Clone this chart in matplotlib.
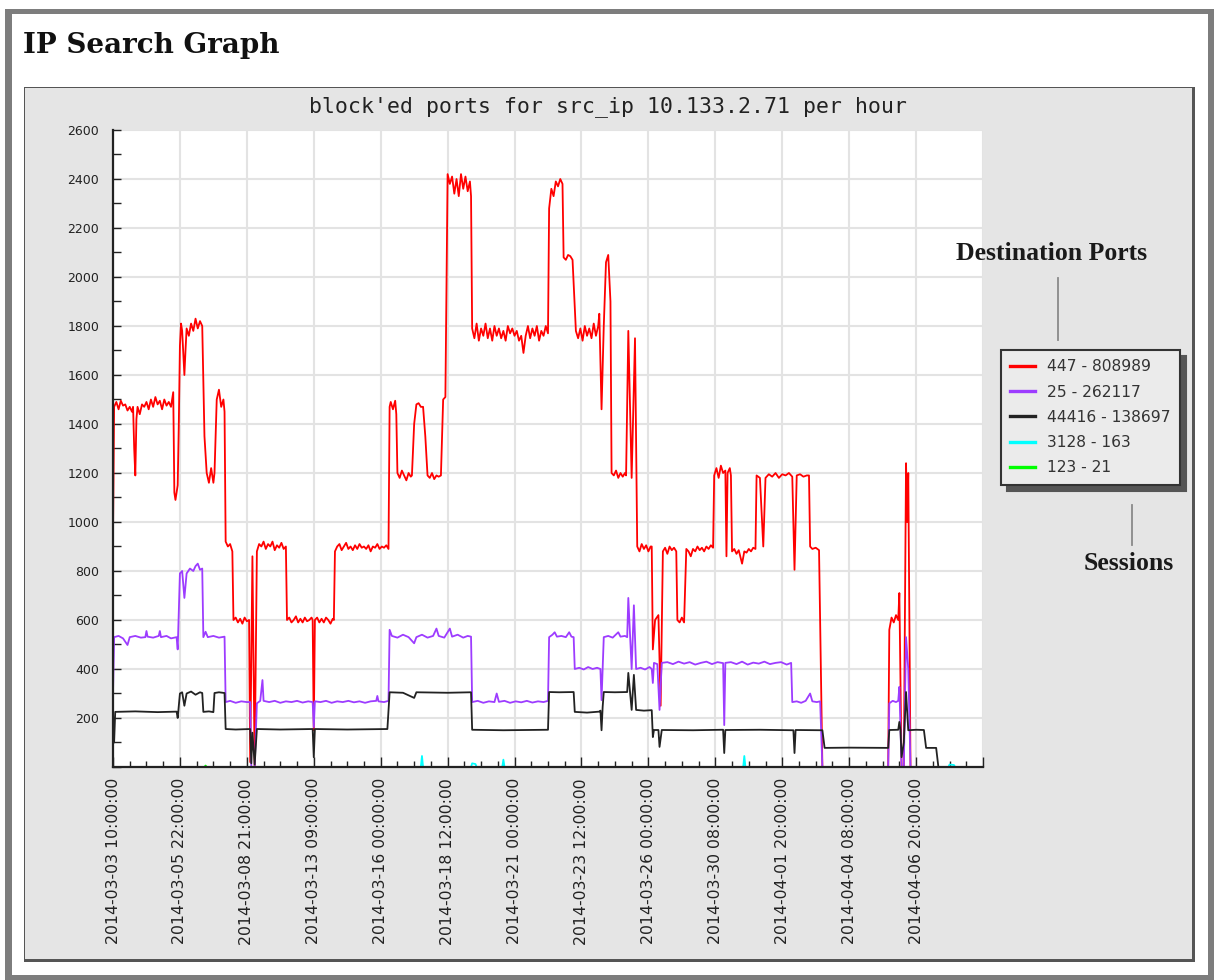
import numpy as np
import matplotlib
matplotlib.use("Agg")
import matplotlib.pyplot as plt
from matplotlib.patches import Rectangle
from matplotlib.lines import Line2D
from matplotlib.ticker import MultipleLocator, FixedLocator

nan = np.nan

# ---------------- data (x = record index, one record per hour present) ----------------
x_tick_labels = ["2014-03-03 10:00:00", "2014-03-05 22:00:00", "2014-03-08 21:00:00",
                 "2014-03-13 09:00:00", "2014-03-16 00:00:00", "2014-03-18 12:00:00",
                 "2014-03-21 00:00:00", "2014-03-23 12:00:00", "2014-03-26 00:00:00",
                 "2014-03-30 08:00:00", "2014-04-01 20:00:00", "2014-04-04 08:00:00",
                 "2014-04-06 20:00:00"]
records_per_label = 60
n_records = 780

series_labels = ["447 - 808989", "25 - 262117", "44416 - 138697", "3128 - 163", "123 - 21"]
series_colors = ["#ff0000", "#9d3cff", "#222222", "#00ffff", "#00ff00"]

port_447 = [
    (0, 940), (1, 1470), (3, 1490), (5, 1460), (7, 1495), (9, 1475), (11, 1480), (13, 1455), (15, 1470),
    (17, 1450), (18, 1470), (19, 1300), (20, 1190), (21, 1420), (22, 1470), (24, 1440), (26, 1480),
    (28, 1470), (30, 1490), (32, 1460), (34, 1500), (36, 1470), (38, 1510), (40, 1480), (42, 1495),
    (44, 1460), (46, 1500), (48, 1475), (50, 1490), (52, 1470), (54, 1530), (55, 1120), (56, 1090),
    (58, 1150), (59, 1400), (60, 1720), (61, 1810), (62, 1780), (64, 1600), (65, 1700), (66, 1790),
    (68, 1760), (70, 1810), (72, 1780), (74, 1830), (76, 1790), (78, 1820), (80, 1800), (82, 1350),
    (84, 1200), (86, 1160), (88, 1220), (90, 1160), (91, 1200), (93, 1500), (95, 1540), (97, 1470),
    (99, 1500), (100, 1450), (101, 920), (103, 900), (105, 910), (107, 880), (108, 600), (110, 610),
    (112, 590), (114, 605), (116, 585), (118, 610), (120, 595), (122, 600), (123, 20), (125, 860),
    (127, 0), (129, 880), (131, 910), (133, 900), (135, 920), (137, 890), (139, 910), (141, 900),
    (143, 920), (145, 885), (147, 905), (149, 895), (151, 915), (153, 890), (155, 900), (156, 600),
    (158, 610), (160, 590), (162, 600), (164, 615), (166, 590), (168, 605), (170, 590), (172, 610),
    (174, 595), (176, 600), (178, 610), (179, 600), (180, 150), (181, 600), (183, 610), (185, 590),
    (187, 605), (189, 590), (191, 610), (193, 600), (195, 585), (197, 605), (198, 600), (199, 880),
    (201, 900), (203, 910), (205, 885), (207, 900), (209, 915), (211, 890), (213, 900), (215, 885),
    (217, 905), (219, 890), (221, 910), (223, 895), (225, 900), (227, 890), (229, 905), (231, 880),
    (233, 900), (235, 895), (237, 910), (239, 890), (241, 900), (243, 895), (245, 905), (247, 890),
    (248, 1470), (249, 1490), (251, 1460), (253, 1495), (254, 1440), (255, 1200), (257, 1180),
    (259, 1210), (261, 1190), (263, 1170), (265, 1200), (267, 1185), (268, 1190), (270, 1400),
    (272, 1480), (274, 1485), (276, 1470), (278, 1470), (280, 1350), (282, 1190), (284, 1180),
    (286, 1200), (288, 1175), (290, 1190), (292, 1185), (294, 1190), (296, 1500), (298, 1510),
    (300, 2420), (302, 2380), (304, 2410), (306, 2340), (308, 2400), (310, 2330), (312, 2420),
    (314, 2360), (316, 2410), (318, 2350), (320, 2390), (321, 2330), (322, 1790), (324, 1750),
    (326, 1810), (328, 1740), (330, 1790), (332, 1760), (334, 1810), (336, 1750), (338, 1790),
    (340, 1740), (342, 1800), (344, 1760), (346, 1790), (348, 1750), (350, 1780), (352, 1740),
    (354, 1800), (356, 1770), (358, 1790), (360, 1760), (362, 1780), (364, 1740), (366, 1760),
    (368, 1690), (370, 1760), (372, 1800), (374, 1750), (376, 1790), (378, 1760), (380, 1800),
    (382, 1740), (384, 1780), (386, 1760), (388, 1800), (390, 1770), (391, 2280), (393, 2360),
    (395, 2330), (397, 2390), (399, 2370), (401, 2400), (403, 2380), (404, 2080), (406, 2070),
    (408, 2090), (410, 2085), (412, 2070), (415, 1780), (417, 1750), (419, 1790), (421, 1740),
    (423, 1800), (425, 1760), (427, 1790), (429, 1750), (431, 1810), (433, 1760), (435, 1800),
    (436, 1850), (438, 1460), (440, 1800), (442, 2060), (444, 2090), (446, 1900), (447, 1200),
    (449, 1190), (451, 1210), (453, 1180), (455, 1200), (457, 1185), (459, 1200), (460, 1190),
    (462, 1780), (465, 1180), (468, 1750), (470, 900), (472, 880), (474, 910), (476, 890), (478, 905),
    (480, 880), (482, 900), (483, 900), (484, 480), (486, 600), (489, 620), (491, 250), (493, 880),
    (495, 895), (497, 870), (499, 900), (501, 885), (503, 895), (505, 880), (506, 600), (508, 590),
    (510, 610), (512, 590), (514, 890), (516, 880), (518, 860), (520, 890), (522, 880), (524, 900),
    (526, 885), (528, 895), (530, 880), (532, 900), (534, 890), (536, 905), (538, 895), (539, 1190),
    (541, 1220), (543, 1180), (545, 1230), (547, 1200), (549, 1210), (550, 860), (551, 1200),
    (553, 1220), (554, 1190), (555, 880), (557, 890), (559, 870), (561, 885), (564, 830), (566, 880),
    (568, 875), (570, 890), (572, 880), (574, 895), (576, 890), (577, 1190), (580, 1180), (583, 900),
    (585, 1180), (588, 1195), (591, 1185), (594, 1200), (597, 1180), (600, 1195), (603, 1190),
    (606, 1200), (609, 1185), (611, 805), (613, 1190), (616, 1195), (619, 1185), (622, 1190),
    (624, 1190), (625, 900), (627, 890), (630, 895), (633, 885), (636, 0), (640, nan),
    (695, 0), (696, 560), (698, 610), (700, 590), (702, 620), (704, 600), (705, 710), (707, 0),
    (709, 0), (711, 1240), (712, 1000), (713, 1200), (715, 0), (716, nan),
]

port_25 = [
    (0, 300), (1, 530), (5, 535), (9, 525), (13, 498), (15, 530), (20, 535), (25, 528), (29, 530),
    (30, 555), (31, 532), (36, 528), (41, 535), (42, 555), (43, 530), (48, 535), (52, 525), (57, 530),
    (58, 480), (60, 790), (62, 800), (64, 690), (66, 790), (69, 810), (72, 800), (74, 820), (76, 830),
    (78, 805), (80, 810), (81, 530), (83, 552), (85, 530), (90, 535), (95, 528), (100, 532),
    (101, 265), (105, 270), (110, 262), (115, 268), (120, 265), (123, 265), (124, 0), (127, 0),
    (129, 260), (132, 270), (134, 355), (135, 270), (140, 265), (145, 270), (150, 262), (155, 268),
    (160, 265), (165, 270), (170, 263), (175, 268), (179, 265), (180, 163), (181, 268), (186, 265),
    (191, 270), (196, 262), (201, 268), (206, 265), (211, 270), (216, 264), (221, 268), (226, 262),
    (231, 268), (236, 270), (237, 290), (238, 268), (243, 265), (247, 270), (248, 560), (250, 535),
    (255, 528), (260, 540), (265, 530), (270, 505), (272, 530), (277, 540), (282, 528), (287, 535),
    (290, 565), (292, 535), (297, 528), (302, 565), (304, 532), (309, 540), (314, 528), (318, 535),
    (321, 532), (322, 265), (327, 270), (332, 262), (337, 268), (342, 265), (344, 300), (346, 266),
    (351, 270), (356, 262), (361, 268), (366, 264), (371, 270), (376, 263), (381, 268), (386, 265),
    (390, 270), (391, 530), (394, 540), (396, 550), (398, 532), (402, 535), (406, 530), (409, 550),
    (411, 532), (413, 530), (414, 400), (418, 405), (422, 398), (426, 408), (430, 400), (434, 405),
    (437, 400), (438, 273), (440, 530), (444, 535), (448, 528), (453, 550), (455, 532), (459, 535),
    (461, 530), (462, 690), (465, 400), (467, 660), (469, 400), (473, 405), (477, 398), (481, 408),
    (483, 400), (484, 343), (485, 425), (488, 420), (490, 233), (492, 425), (497, 428), (502, 420),
    (507, 430), (512, 422), (517, 428), (522, 418), (527, 425), (532, 430), (537, 420), (542, 428),
    (547, 424), (548, 171), (549, 425), (554, 428), (559, 420), (564, 430), (569, 418), (574, 426),
    (579, 422), (584, 430), (589, 420), (594, 425), (599, 428), (604, 418), (608, 425), (609, 265),
    (613, 268), (617, 262), (621, 270), (625, 300), (627, 268), (631, 265), (634, 268), (636, 0),
    (640, nan), (695, 0), (696, 260), (699, 270), (702, 265), (704, 270), (705, 327), (707, 0),
    (709, 0), (711, 530), (713, 400), (715, 0), (716, nan),
]

port_44416 = [
    (0, 225), (1, 100), (2, 225), (20, 227), (40, 224), (57, 226), (58, 200), (60, 300), (62, 305),
    (64, 250), (66, 300), (70, 308), (74, 295), (78, 305), (80, 302), (81, 225), (86, 227), (90, 224),
    (91, 302), (95, 305), (100, 302), (101, 155), (110, 153), (123, 155), (124, 15), (125, 140),
    (127, 10), (129, 155), (150, 153), (179, 155), (180, 40), (181, 155), (210, 153), (246, 155),
    (248, 305), (260, 303), (270, 282), (272, 305), (300, 303), (321, 305), (322, 152), (350, 150),
    (390, 152), (391, 306), (400, 305), (413, 306), (414, 225), (425, 222), (436, 226), (437, 230),
    (438, 150), (439, 245), (440, 306), (450, 305), (461, 306), (462, 384), (465, 233), (467, 376),
    (469, 233), (476, 230), (483, 232), (484, 122), (485, 151), (489, 151), (490, 82), (492, 151),
    (520, 150), (547, 152), (548, 57), (549, 151), (580, 152), (610, 150), (611, 57), (612, 151),
    (636, 150), (638, 78), (660, 79), (695, 78), (696, 151), (704, 152), (705, 184), (706, 151),
    (707, 40), (709, 100), (711, 306), (713, 150), (720, 152), (727, 151), (729, 78), (738, 78),
    (740, 0), (742, nan),
]

port_3128 = [
    (0, 0), (276, 0), (277, 45), (278, 0), (321, 0), (322, 15), (325, 12), (326, 0), (349, 0),
    (350, 30), (351, 0), (565, 0), (566, 45), (567, 0), (749, 0), (750, 10), (754, 8), (755, 0),
    (760, 0),
]

port_123 = [(0, 0), (82, 0), (83, 6), (84, 0), (760, 0)]

all_series = [port_447, port_25, port_44416, port_3128, port_123]

# ---------------- figure layout ----------------
W, H = 1214, 980
fig = plt.figure(figsize=(W / 100, H / 100), dpi=100)
fig.patch.set_facecolor("white")


def fx(px):
    return px / W


def fy(py):
    return 1 - py / H


def frect(x0, y0, x1, y1, **kw):
    return Rectangle((fx(x0), fy(y1)), fx(x1) - fx(x0), fy(y0) - fy(y1),
                     transform=fig.transFigure, **kw)


# outer page frame
fig.add_artist(frect(5, 9, 1214, 980, facecolor="#7d7d7d", edgecolor="none", zorder=-5))
fig.add_artist(frect(12, 14, 1208, 975, facecolor="white", edgecolor="none", zorder=-4))
# gray chart panel
fig.add_artist(frect(24, 87, 1195, 962, facecolor="#555555", edgecolor="none", zorder=-3))
fig.add_artist(frect(25, 88, 1192, 959, facecolor="#e5e5e5", edgecolor="none", zorder=-2))

fig.text(fx(23), fy(53), "IP Search Graph", fontsize=20, fontweight="bold",
         family="DejaVu Serif", color="#111111", va="baseline", ha="left")

fig.text(fx(608), fy(107), "block'ed ports for src_ip 10.133.2.71 per hour",
         fontsize=15.5, family="DejaVu Sans Mono", color="#222222", ha="center", va="center")

ax = fig.add_axes([fx(113), fy(767), fx(983) - fx(113), fy(130) - fy(767)])
ax.set_facecolor("white")

for pts, col in zip(all_series, series_colors):
    xs = [p[0] for p in pts]
    ys = [p[1] for p in pts]
    ax.plot(xs, ys, color=col, lw=1.3, zorder=2, solid_joinstyle="round")

ax.set_xlim(0, n_records)
ax.set_ylim(0, 2600)

major_x = list(range(0, n_records + 1, records_per_label))
ax.xaxis.set_major_locator(FixedLocator(major_x))
ax.xaxis.set_minor_locator(MultipleLocator(records_per_label / 4))
ax.set_xticklabels(x_tick_labels + [""], rotation=90, fontsize=11.3, family="DejaVu Sans",
                   color="#222222")
ax.yaxis.set_major_locator(FixedLocator(list(range(200, 2601, 200))))
ax.yaxis.set_minor_locator(MultipleLocator(100))
ax.tick_params(axis="y", labelsize=9, labelcolor="#222222")

ax.tick_params(which="both", direction="in", color="#222222", width=1)
ax.tick_params(axis="x", which="major", length=7, pad=8)
ax.tick_params(axis="x", which="minor", length=4)
ax.tick_params(axis="y", which="major", length=6, pad=10)
ax.tick_params(axis="y", which="minor", length=6)

ax.grid(True, which="major", color="#e3e3e3", lw=1.5, zorder=0)
ax.set_axisbelow(True)
for s in ["top", "right"]:
    ax.spines[s].set_visible(False)
for s in ["left", "bottom"]:
    ax.spines[s].set_color("#222222")
    ax.spines[s].set_linewidth(1.6)
    ax.spines[s].set_zorder(5)

handles = [Line2D([], [], color=c, lw=2.4) for c in series_colors]
leg = ax.legend(handles, series_labels, loc="upper left",
                bbox_to_anchor=(fx(1001), fy(350)), bbox_transform=fig.transFigure,
                borderaxespad=0, frameon=True, fancybox=False, framealpha=1,
                facecolor="#ebebeb", edgecolor="#333333",
                prop={"family": "DejaVu Sans", "size": 11.2},
                handlelength=1.6, handletextpad=0.75, labelspacing=0.66, borderpad=0.6,
                shadow={"ox": 4.3, "oy": -4.3, "color": "#555555", "alpha": 1})
leg.get_frame().set_linewidth(1.5)
for t in leg.get_texts():
    t.set_color("#333333")

fig.text(fx(1052), fy(254), "Destination Ports", fontsize=18.5, fontweight="bold",
         family="Liberation Serif", color="#1a1a1a", ha="center", va="center")
fig.text(fx(1129), fy(564), "Sessions", fontsize=18.5, fontweight="bold",
         family="Liberation Serif", color="#1a1a1a", ha="center", va="center")
fig.add_artist(Line2D([fx(1058), fx(1058)], [fy(278), fy(340)], transform=fig.transFigure,
                      color="#8a8a8a", lw=1.3))
fig.add_artist(Line2D([fx(1132), fx(1132)], [fy(505), fy(545)], transform=fig.transFigure,
                      color="#8a8a8a", lw=1.3))

fig.savefig("out.png", dpi=100)
